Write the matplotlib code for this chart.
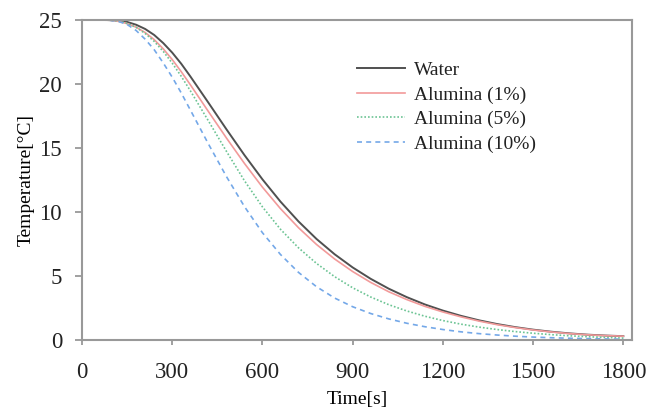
import matplotlib
matplotlib.use("Agg")
import matplotlib.pyplot as plt

# time axis in seconds: 30 s steps through the shoulder, 60 s afterwards
time_s = [0, 60, 90, 120, 150, 180, 210, 240, 270, 300, 330, 360, 420, 480,
          540, 600, 660, 720, 780, 840, 900, 960, 1020, 1080, 1140, 1200, 1260,
          1320, 1380, 1440, 1500, 1560, 1620, 1680, 1740, 1800]

# temperatures in degC
water = [25.0, 25.0, 25.0, 24.96, 24.85, 24.63, 24.3, 23.83, 23.2, 22.45,
         21.58, 20.6, 18.55, 16.47, 14.45, 12.55, 10.81, 9.26, 7.89, 6.7,
         5.67, 4.78, 4.01, 3.35, 2.78, 2.3, 1.89, 1.54, 1.25, 1.01, 0.81,
         0.65, 0.52, 0.42, 0.35, 0.3]
alumina_1 = [25.0, 25.0, 24.98, 24.9, 24.72, 24.44, 24.02, 23.47, 22.75, 21.91,
             20.96, 19.95, 17.86, 15.79, 13.8, 11.94, 10.26, 8.77, 7.46, 6.33,
             5.35, 4.5, 3.77, 3.16, 2.63, 2.19, 1.81, 1.48, 1.2, 0.975, 0.785,
             0.63, 0.505, 0.41, 0.345, 0.3]
alumina_5 = [25.0, 25.0, 24.98, 24.93, 24.73, 24.43, 23.95, 23.33, 22.55, 21.63,
             20.6, 19.48, 17.13, 14.75, 12.45, 10.4, 8.65, 7.2, 5.98, 4.95,
             4.08, 3.36, 2.76, 2.27, 1.86, 1.52, 1.24, 1.01, 0.82, 0.66, 0.53,
             0.42, 0.33, 0.26, 0.2, 0.15]
alumina_10 = [25.0, 25.0, 24.98, 24.9, 24.65, 24.18, 23.5, 22.68, 21.65, 20.53,
              19.3, 17.98, 15.33, 12.78, 10.43, 8.38, 6.68, 5.28, 4.16, 3.28,
              2.6, 2.07, 1.65, 1.31, 1.04, 0.82, 0.64, 0.5, 0.39, 0.3, 0.23,
              0.18, 0.14, 0.11, 0.085, 0.065]

series_labels = ["Water", "Alumina (1%)", "Alumina (5%)", "Alumina (10%)"]
x_ticks = [0, 300, 600, 900, 1200, 1500, 1800]
y_ticks = [0, 5, 10, 15, 20, 25]

plt.rcParams["font.family"] = ["Liberation Serif", "DejaVu Serif"]
plt.rcParams["text.color"] = "#222222"

fig = plt.figure(figsize=(6.68, 4.11), dpi=100)
ax = fig.add_axes([0.1228, 0.1727, 0.8229, 0.7786])

ax.plot(time_s, water, color="#505050", lw=1.4, ls="-", label=series_labels[0])
ax.plot(time_s, alumina_1, color="#f29a9a", lw=1.2, ls="-", label=series_labels[1])
ax.plot(time_s, alumina_5, color="#6cc494", lw=1.2, ls=(0, (1, 1.2)), label=series_labels[2])
ax.plot(time_s, alumina_10, color="#74a8e8", lw=1.2, ls=(0, (3, 2.5)), label=series_labels[3])

ax.set_xlim(0, 1828)
ax.set_ylim(0, 25)
ax.set_xticks(x_ticks)
ax.set_yticks(y_ticks)

for side in ["left", "bottom", "right", "top"]:
    ax.spines[side].set_color("#999999")
    ax.spines[side].set_linewidth(1.5)

ax.tick_params(axis="both", direction="out", width=1.3, color="#999999",
               labelsize=16.5, labelcolor="#222222")
ax.tick_params(axis="x", length=3.6, pad=12)
ax.tick_params(axis="y", length=5, pad=9.4)

ax.set_xlabel("Time[s]", fontsize=14, labelpad=6)
ax.set_ylabel("Temperature[°C]", fontsize=14, labelpad=3)

ax.legend(loc="upper left", bbox_to_anchor=(0.5, 0.87), frameon=False,
          fontsize=14, handlelength=2.5, handletextpad=0.45, labelspacing=0.35,
          borderpad=0, borderaxespad=0)

fig.savefig("out.png", dpi=100)
